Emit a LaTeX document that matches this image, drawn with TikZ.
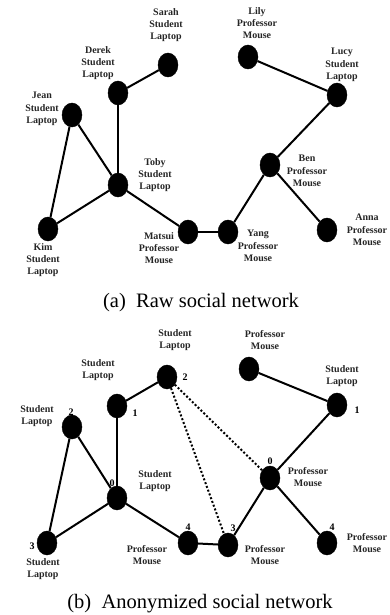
\documentclass[tikz,border=0pt]{standalone}
\usepackage{fontspec}
\setmainfont{Liberation Serif}
\usetikzlibrary{shapes.geometric}
\begin{document}
\begin{tikzpicture}[x=1pt,y=-1pt,
  vtx/.style={ellipse,fill=black,draw=black,minimum width=20pt,minimum height=24pt,inner sep=0pt},
  lbl/.style={font=\bfseries\fontsize{10}{12.3}\selectfont,align=center,inner sep=0pt,text=black!85},
  num/.style={font=\bfseries\fontsize{10}{11}\selectfont,inner sep=0pt},
  conn/.style={line width=2pt},
  dconn/.style={line width=2pt,dotted},
  captxt/.style={font=\fontsize{20.5}{24}\selectfont,inner sep=0pt}]
\useasboundingbox (0,0) rectangle (390,615);
% ---------- (a) raw ----------
\node[vtx] (sarah) at (168,65) {};
\node[vtx] (derek) at (118,93) {};
\node[vtx] (jean) at (72,115) {};
\node[vtx] (toby) at (118,185) {};
\node[vtx] (kim) at (48,229) {};
\node[vtx] (matsui) at (188,232) {};
\node[vtx] (yang) at (228,232) {};
\node[vtx] (ben) at (270,165) {};
\node[vtx] (anna) at (327,230) {};
\node[vtx] (lily) at (248,57) {};
\node[vtx] (lucy) at (337,95) {};
\draw[conn] (sarah) -- (derek);
\draw[conn] (derek) -- (toby);
\draw[conn] (jean) -- (toby);
\draw[conn] (jean) -- (kim);
\draw[conn] (kim) -- (toby);
\draw[conn] (toby) -- (matsui);
\draw[conn] (matsui) -- (yang);
\draw[conn] (yang) -- (ben);
\draw[conn] (ben) -- (lucy);
\draw[conn] (lucy) -- (lily);
\draw[conn] (ben) -- (anna);
\node[lbl] (lsarah) at (166,25) {Sarah\\Student\\Laptop};
\node[lbl] (lderek) at (98,63) {Derek\\Student\\Laptop};
\node[lbl] (ljean) at (42,109) {Jean\\Student\\Laptop};
\node[lbl] (ltoby) at (155,175) {Toby\\Student\\Laptop};
\node[lbl] (lkim) at (43,260) {Kim\\Student\\Laptop};
\node[lbl] (lmatsui) at (159,248) {Matsui\\Professor\\Mouse};
\node[lbl] (lyang) at (258,246) {Yang\\Professor\\Mouse};
\node[lbl] (lben) at (307,171) {Ben\\Professor\\Mouse};
\node[lbl] (lanna) at (367,230) {Anna\\Professor\\Mouse};
\node[lbl] (llily) at (257,23) {Lily\\Professor\\Mouse};
\node[lbl] (llucy) at (342,65) {Lucy\\Student\\Laptop};
\node[captxt] (capa) at (201,303) {(a)\ \ Raw social network};
% ---------- (b) anonymized ----------
\node[vtx] (sarahb) at (167,377) {};
\node[vtx] (derekb) at (117,406) {};
\node[vtx] (jeanb) at (72,427) {};
\node[vtx] (tobyb) at (117,498) {};
\node[vtx] (kimb) at (47,543) {};
\node[vtx] (matsuib) at (188,543) {};
\node[vtx] (yangb) at (228,545) {};
\node[vtx] (benb) at (270,478) {};
\node[vtx] (annab) at (327,543) {};
\node[vtx] (lilyb) at (249,369) {};
\node[vtx] (lucyb) at (337,405) {};
\draw[conn] (sarahb) -- (derekb);
\draw[conn] (derekb) -- (tobyb);
\draw[conn] (jeanb) -- (tobyb);
\draw[conn] (jeanb) -- (kimb);
\draw[conn] (kimb) -- (tobyb);
\draw[conn] (tobyb) -- (matsuib);
\draw[conn] (matsuib) -- (yangb);
\draw[conn] (yangb) -- (benb);
\draw[conn] (benb) -- (lucyb);
\draw[conn] (lucyb) -- (lilyb);
\draw[conn] (benb) -- (annab);
\draw[dconn] (sarahb) -- (yangb);
\draw[dconn] (sarahb) -- (benb);
\node[lbl] (lsarahb) at (175,340) {Student\\Laptop};
\node[num] (nsarahb) at (185,377) {2};
\node[lbl] (lderekb) at (98,370) {Student\\Laptop};
\node[num] (nderekb) at (135,413) {1};
\node[lbl] (ljeanb) at (37,416) {Student\\Laptop};
\node[num] (njeanb) at (71,412) {2};
\node[lbl] (ltobyb) at (155,481) {Student\\Laptop};
\node[num] (ntobyb) at (112,483) {0};
\node[lbl] (lkimb) at (43,569) {Student\\Laptop};
\node[num] (nkimb) at (32,546) {3};
\node[lbl] (lmatsuib) at (147,555) {Professor\\Mouse};
\node[num] (nmatsuib) at (188,527) {4};
\node[lbl] (lyangb) at (265,555) {Professor\\Mouse};
\node[num] (nyangb) at (233,528) {3};
\node[lbl] (lbenb) at (308,477) {Professor\\Mouse};
\node[num] (nbenb) at (270,461) {0};
\node[lbl] (lannab) at (367,543) {Professor\\Mouse};
\node[num] (nannab) at (332,527) {4};
\node[lbl] (llilyb) at (265,340) {Professor\\Mouse};
\node[lbl] (llucyb) at (342,376) {Student\\Laptop};
\node[num] (nlucyb) at (357,410) {1};
\node[captxt] (capb) at (200,604) {(b)\ \ Anonymized social network};
\end{tikzpicture}
\end{document}
